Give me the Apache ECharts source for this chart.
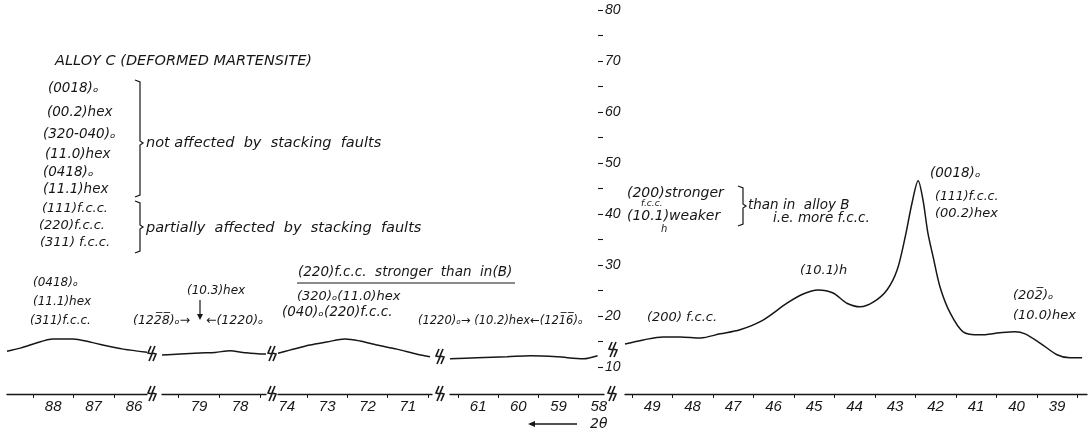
<!DOCTYPE html>
<html>
<head>
<meta charset="utf-8">
<script src="https://cdn.jsdelivr.net/npm/echarts@6/dist/echarts.min.js"></script>
<style>
  html, body { margin: 0; padding: 0; background: #ffffff; }
  #chart { width: 1089px; height: 436px; }
</style>
</head>
<body>
<div id="chart"></div>
<script>
// Diffractometer trace of alloy C (deformed martensite).
// The 2θ scale runs from high to low angle and is broken into five windows.

// Intensity trace per window: [2θ (deg), intensity (chart units)]
const trace88 = [[89.14,13.1],[88.81,13.7],[88.49,14.5],[88.00,15.5],[87.51,15.5],[87.09,14.9],[86.77,14.3],[86.27,13.5],[85.68,12.9]];
const trace79 = [[79.90,12.35],[79.46,12.55],[78.98,12.75],[78.61,12.85],[78.24,13.2],[77.93,12.85],[77.51,12.55],[77.37,12.55]];
const trace73 = [[74.22,12.7],[73.93,13.3],[73.43,14.3],[73.01,14.9],[72.56,15.5],[72.19,15.1],[71.77,14.3],[71.27,13.5],[70.77,12.5],[70.45,12.0]];
const trace60 = [[61.70,11.6],[61.03,11.8],[60.28,12.0],[59.70,12.2],[59.03,12.0],[58.38,11.6],[58.03,12.2]];
const trace44 = [[49.67,14.5],[49.22,15.3],[48.73,15.9],[48.31,15.9],[47.81,15.7],[47.32,16.5],[46.83,17.3],[46.26,19.2],[45.67,22.5],[45.27,24.3],[44.90,25.1],[44.53,24.5],[44.19,22.5],[43.86,21.8],[43.54,22.7],[43.20,25.1],[42.95,29.0],[42.75,35.5],[42.58,42.2],[42.43,46.5],[42.31,42.7],[42.19,36.3],[42.06,31.6],[41.89,25.7],[41.64,20.6],[41.32,16.9],[40.90,16.3],[40.41,16.7],[40.04,16.9],[39.79,16.5],[39.42,14.7],[39.00,12.4],[38.68,11.8],[38.38,11.8]];

// Labelled 2θ values for each window
const labels88 = [88, 87, 86];
const labels79 = [79, 78];
const labels73 = [74, 73, 72, 71];
const labels60 = [61, 60, 59, 58];
const labels44 = [49, 48, 47, 46, 45, 44, 43, 42, 41, 40, 39];

// 2θ extent of each window [low, high]
const range88 = [85.68, 89.14];
const range79 = [77.37, 79.90];
const range73 = [70.40, 74.22];
const range60 = [57.87, 61.70];
const range44 = [38.26, 49.67];

// Intensity scale labels
const intensityLabels = [10, 20, 30, 40, 50, 60, 70, 80];
const intensityTicks = [10, 15, 20, 25, 30, 35, 40, 45, 50, 55, 60, 65, 70, 75, 80];
const intensityRange = [4.7, 80];

const INK = '#161616';
const AXIS_FONT = '"Liberation Sans", "DejaVu Sans", Arial, sans-serif';
const NOTE_FONT = '"DejaVu Sans", "Liberation Sans", Arial, sans-serif';

// pixel placement of each window
const windows = [
  { range: range88, labels: labels88, data: trace88, left: 7,   width: 140 },
  { range: range79, labels: labels79, data: trace79, left: 162, width: 104 },
  { range: range73, labels: labels73, data: trace73, left: 278, width: 154 },
  { range: range60, labels: labels60, data: trace60, left: 450, width: 154 },
  { range: range44, labels: labels44, data: trace44, left: 625, width: 462 }
];

function halfTicks(w) {
  const out = [];
  w.labels.forEach(v => {
    [v - 0.5, v + 0.5].forEach(h => {
      if (h >= w.range[0] && h <= w.range[1] && out.indexOf(h) < 0) out.push(h);
    });
  });
  return out;
}

const grids = windows.map(w => ({ left: w.left, width: w.width, top: 10, bottom: 42 }));

const xAxes = windows.map((w, i) => ({
  type: 'value', gridIndex: i, min: w.range[0], max: w.range[1], inverse: true,
  axisLine: { show: true, onZero: false, lineStyle: { color: INK, width: 1.3 } },
  splitLine: { show: false },
  axisTick: { show: true, customValues: halfTicks(w), length: 4, inside: false, lineStyle: { color: INK, width: 1 } },
  axisLabel: { customValues: w.labels, fontStyle: 'italic', fontSize: 15, color: INK, fontFamily: AXIS_FONT, margin: 5 }
}));

const yAxes = windows.map((w, i) => ({
  type: 'value', gridIndex: i, min: intensityRange[0], max: intensityRange[1],
  show: i === 4, position: 'left', offset: 22,
  axisLine: { show: false },
  splitLine: { show: false },
  axisTick: { show: true, customValues: intensityTicks, inside: false, length: 5, lineStyle: { color: INK, width: 1.1 } },
  axisLabel: { customValues: intensityLabels, inside: true, margin: 2, fontStyle: 'italic', fontSize: 14, color: INK, fontFamily: AXIS_FONT }
}));

const series = windows.map((w, i) => ({
  type: 'line', xAxisIndex: i, yAxisIndex: i, data: w.data,
  showSymbol: false, smooth: 0.3, silent: true,
  lineStyle: { color: INK, width: 1.5 }
}));

// ---- annotations ----
function txt(text, x, y, size) {
  return {
    type: 'text', x: x, y: y, silent: true,
    style: { text: text, fill: INK, font: 'oblique ' + (size || 13) + 'px ' + NOTE_FONT, verticalAlign: 'middle' }
  };
}
function stroke(points, w) {
  return { type: 'polyline', silent: true, shape: { points: points }, style: { stroke: INK, lineWidth: w || 1.2, fill: null } };
}
function brace(x, y0, y1, ym) {
  return stroke([[x - 5, y0], [x, y0 + 2], [x, ym - 2], [x + 3, ym], [x, ym + 2], [x, y1 - 2], [x - 5, y1]], 1.2);
}
function breakMark(x, y) {
  const bolt = dx => stroke([[x + dx + 3, y], [x + dx, y + 7], [x + dx + 4, y + 8], [x + dx + 1, y + 15]], 1.6);
  return [bolt(0), bolt(4)];
}
function arrowHead(x, y, dir) {
  let pts;
  if (dir === 'down') pts = [[x - 3, y - 6], [x + 3, y - 6], [x, y]];
  else pts = [[x, y], [x + 7, y - 3], [x + 7, y + 3]];
  return { type: 'polygon', silent: true, shape: { points: pts }, style: { fill: INK } };
}

const O = '\u2092';       // subscript o
const BAR = '\u0305';     // combining overline

const graphic = [
  txt('ALLOY C (DEFORMED MARTENSITE)', 55, 61, 14.5),

  txt('(0018)' + O, 48, 88, 13.5),
  txt('(00.2)hex', 47, 112, 13.5),
  txt('(320-040)' + O, 43, 134, 13.5),
  txt('(11.0)hex', 45, 154, 13.5),
  txt('(0418)' + O, 43, 172, 13.5),
  txt('(11.1)hex', 43, 189, 13.5),
  brace(140, 80, 197, 143),
  txt('not affected  by  stacking  faults', 146, 143, 14.5),

  txt('(111)f.c.c.', 42, 209, 13),
  txt('(220)f.c.c.', 39, 226, 13),
  txt('(311) f.c.c.', 40, 243, 13),
  brace(140, 201, 253, 227),
  txt('partially  affected  by  stacking  faults', 146, 228, 14.5),

  txt('(0418)' + O, 33, 283, 12),
  txt('(11.1)hex', 33, 302, 12),
  txt('(311)f.c.c.', 30, 321, 12),

  txt('(10.3)hex', 187, 291, 12),
  stroke([[200, 300], [200, 314]], 1.2),
  arrowHead(200, 320, 'down'),
  txt('(122' + BAR + '8' + BAR + ')' + O + '\u2192', 133, 321, 12.5),
  txt('\u2190(1220)' + O, 206, 321, 12.5),

  txt('(220)f.c.c.  stronger  than  in(B)', 298, 272, 13.5),
  stroke([[297, 283], [515, 283]], 1.2),
  txt('(320)' + O + '(11.0)hex', 297, 297, 13),
  txt('(040)' + O + '(220)f.c.c.', 282, 312, 13.5),
  txt('(1220)' + O + '\u2192 (10.2)hex\u2190(121' + BAR + '6' + BAR + ')' + O, 418, 321, 11.5),

  txt('(200)stronger', 627, 193, 14),
  txt('f.c.c.', 641, 204, 9),
  txt('(10.1)weaker', 627, 216, 14),
  txt('h', 661, 229, 10),
  stroke([[738, 186], [743, 188], [743, 204], [746, 206], [743, 208], [743, 224], [738, 226]], 1.2),
  txt('than in  alloy B', 748, 205, 13.5),
  txt('i.e. more f.c.c.', 773, 218, 13.5),

  txt('(10.1)h', 800, 271, 13),
  txt('(200) f.c.c.', 647, 318, 13),
  txt('(0018)' + O, 930, 173, 13.5),
  txt('(111)f.c.c.', 935, 197, 12.5),
  txt('(00.2)hex', 935, 214, 13),
  txt('(202' + BAR + ')' + O, 1013, 296, 13),
  txt('(10.0)hex', 1013, 316, 13),

  stroke([[530, 424], [577, 424]], 1.4),
  arrowHead(528, 424, 'left'),
  txt('2\u03B8', 590, 424, 14)
]
  .concat(breakMark(148, 346), breakMark(148, 386))
  .concat(breakMark(268, 346), breakMark(268, 386))
  .concat(breakMark(436, 349), breakMark(436, 386))
  .concat(breakMark(609, 342), breakMark(608, 386));

const chart = echarts.init(document.getElementById('chart'), null, { renderer: 'canvas' });
chart.setOption({
  animation: false,
  backgroundColor: '#ffffff',
  grid: grids,
  xAxis: xAxes,
  yAxis: yAxes,
  series: series,
  graphic: graphic
});
</script>
</body>
</html>
